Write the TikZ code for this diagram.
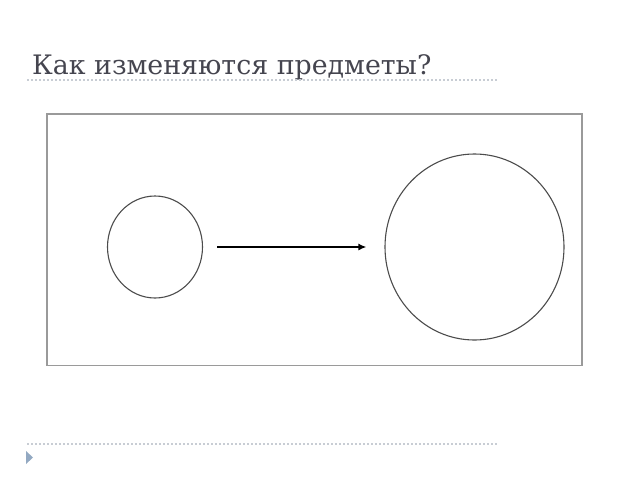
\documentclass[tikz,border=0pt]{standalone}
\usepackage{fontspec}
\setmainfont{DejaVu Serif}
\usetikzlibrary{shapes.geometric,arrows.meta}
\definecolor{titlegray}{HTML}{45454F}
\definecolor{framegray}{HTML}{9A9A9A}
\definecolor{dotgray}{HTML}{C8CDD4}
\definecolor{bulletblue}{HTML}{93A9C2}

\begin{document}
\begin{tikzpicture}[x=1pt,y=-1pt,
	blob/.style={ellipse,draw={black!70},line width=1.1pt,inner sep=0pt},
	rule/.style={dotgray,line width=1.2pt,dash pattern=on 2pt off 2pt}]
	\useasboundingbox (0,0) rectangle (640,480);

	\node[anchor=base west,font=\fontsize{26.8}{32}\selectfont,text=titlegray,inner sep=0pt]
		(title) at (32,74) {Как изменяются предметы?};
	\draw[rule] (27,80) -- (497,80);
	\draw[rule] (27,444) -- (497,444);
	\fill[bulletblue] (26,451) -- (33,457.5) -- (26,464) -- cycle;

	\draw[framegray,line width=1.5pt] (47,114) rectangle (582,365.5);
	\node[blob,minimum width=95pt,minimum height=102pt] (small) at (155,247) {};
	\node[blob,minimum width=179pt,minimum height=186pt] (big) at (474.5,247) {};
	\draw[line width=2.5pt,-{Latex[length=8pt,width=7pt]},shorten <=14pt,shorten >=18pt]
		(small) -- (big);
\end{tikzpicture}
\end{document}
